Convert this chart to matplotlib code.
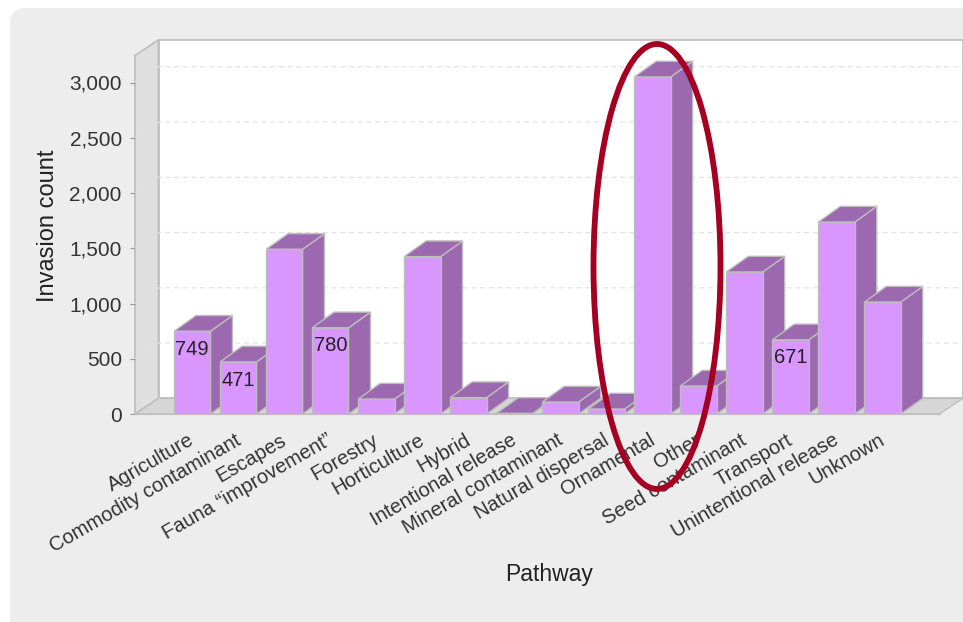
import matplotlib
matplotlib.use('Agg')
import matplotlib.pyplot as plt
from matplotlib.patches import Polygon, Ellipse, FancyBboxPatch
from matplotlib.ticker import FuncFormatter
from matplotlib.transforms import Affine2D

plt.rcParams['font.family'] = ['Liberation Sans', 'DejaVu Sans']

pathways = ['Agriculture', 'Commodity contaminant', 'Escapes',
            'Fauna \u201cimprovement\u201d', 'Forestry', 'Horticulture', 'Hybrid',
            'Intentional release', 'Mineral contaminant', 'Natural dispersal',
            'Ornamental', 'Other', 'Seed contaminant', 'Transport',
            'Unintentional release', 'Unknown']
counts = [749, 471, 1490, 780, 135, 1424, 148, 5, 108, 45,
          3050, 253, 1285, 671, 1737, 1013]
labelled = ['Agriculture', 'Commodity contaminant', 'Fauna \u201cimprovement\u201d', 'Transport']
yticks = [0, 500, 1000, 1500, 2000, 2500, 3000]

W, H = 963, 622
FRONT = '#DA96FF'
SIDE = '#9C68B0'
EDGE = '#BDBDBD'

fig = plt.figure(figsize=(W / 100, H / 100), dpi=100, facecolor='white')

# grey rounded panel behind the plot
bg = fig.add_axes([0, 0, 1, 1], zorder=0)
bg.set_xlim(0, W)
bg.set_ylim(H, 0)
bg.axis('off')
bg.add_patch(FancyBboxPatch((10, 8), 1000, 700, boxstyle='round,pad=0,rounding_size=16',
                            fc='#EDEDED', ec='none'))

# axes sits on the front plane, the back wall is pushed up and right by depth
left, right, bottom, top = 135, 939.5, 414, 55.5
ax = fig.add_axes([left / W, 1 - bottom / H, (right - left) / W, (bottom - top) / H], zorder=1)
step = 46.02
ax.set_xlim((left - 192.25) / step, (right - 192.25) / step)
ax.set_ylim(0, (bottom - top) / 0.1105)
ax.patch.set_visible(False)
x0, x1 = ax.get_xlim()
y0, y1 = ax.get_ylim()
dx = 23.5 / step
dy = 15.7 / 0.1105
bar_dx = 22 / step

ax.add_patch(Polygon([(x0 + dx, y0 + dy), (x1 + dx, y0 + dy), (x1 + dx, y1 + dy), (x0 + dx, y1 + dy)],
                     fc='white', ec=EDGE, lw=1.2, clip_on=False, zorder=1))
ax.add_patch(Polygon([(x0, y0), (x0 + dx, y0 + dy), (x0 + dx, y1 + dy), (x0, y1)],
                     fc='#DFDFDF', ec=EDGE, lw=1.2, clip_on=False, zorder=1))
for t in yticks:
    ax.plot([x0, x0 + dx, x1 + dx], [t, t + dy, t + dy], color='#E2E2E2', lw=0.9,
            dashes=(4, 3), clip_on=False, zorder=2)
ax.add_patch(Polygon([(x0, y0), (x1, y0), (x1 + dx, y0 + dy), (x0 + dx, y0 + dy)],
                     fc='#D6D6D6', ec=EDGE, lw=1, clip_on=False, zorder=3))

hw = 0.395
for i, v in enumerate(counts):
    z = 4 + i
    ax.add_patch(Polygon([(i + hw, 0), (i + hw + bar_dx, dy), (i + hw + bar_dx, v + dy), (i + hw, v)],
                         fc=SIDE, ec=EDGE, lw=1, clip_on=False, zorder=z))
    ax.add_patch(Polygon([(i - hw, v), (i + hw, v), (i + hw + bar_dx, v + dy), (i - hw + bar_dx, v + dy)],
                         fc=SIDE, ec=EDGE, lw=1, clip_on=False, zorder=z))
    ax.bar(i, v, width=hw * 2, color=FRONT, edgecolor=EDGE, lw=1, zorder=z)
    if pathways[i] in labelled:
        ax.annotate(str(v), (i, v), xytext=(0, -13), textcoords='offset points',
                    ha='center', va='center', fontsize=14.5, color='#222222', zorder=30)

for s in ['top', 'right', 'left']:
    ax.spines[s].set_visible(False)
ax.spines['bottom'].set_color(EDGE)
ax.spines['bottom'].set_zorder(25)
ax.set_yticks(yticks)
ax.yaxis.set_major_formatter(FuncFormatter(lambda v, p: f'{int(v):,}'))
ax.tick_params(axis='y', length=3.5, color='#999999', labelsize=15, labelcolor='#333333', pad=6)
ax.set_xticks(range(len(pathways)))
ax.set_xticklabels(pathways, rotation=30, ha='right', rotation_mode='anchor',
                   fontsize=14.5, color='#333333')
ax.tick_params(axis='x', length=0, pad=12)
# nudge the slanted labels a little to the left
for lab in ax.get_xticklabels():
    lab.set_transform(lab.get_transform() + Affine2D().translate(-4, 0))

fig.text(48 / W, 1 - 226 / H, 'Invasion count', rotation=90, ha='center', va='center',
         fontsize=17, color='#222222')
fig.text(549 / W, 1 - 574 / H, 'Pathway', ha='center', va='center', fontsize=16.5, color='#222222')

# red ring around the ornamental bar
over = fig.add_axes([0, 0, 1, 1], zorder=2)
over.set_xlim(0, W)
over.set_ylim(H, 0)
over.axis('off')
over.add_patch(Ellipse((657, 266.5), 127, 445, fc='none', ec='#A50021', lw=4.2))

fig.savefig('out.png', dpi=100)
